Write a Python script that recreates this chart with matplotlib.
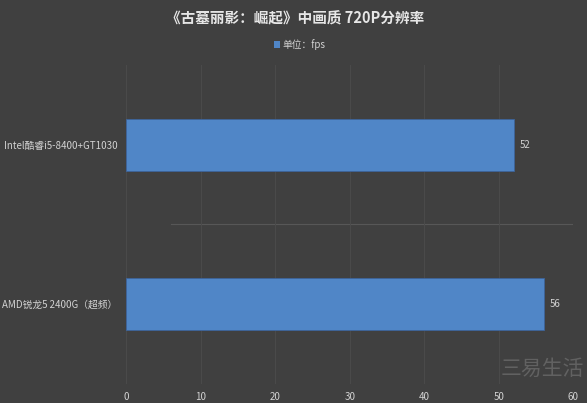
import matplotlib
matplotlib.use("Agg")
import matplotlib.pyplot as plt
from matplotlib.patches import Rectangle

plt.rcParams['font.family'] = ['Noto Sans CJK SC', 'DejaVu Sans']

title = "《古墓丽影：崛起》中画质 720P分辨率"
legend_label = "单位：fps"
categories = ["Intel酷睿i5-8400+GT1030", "AMD锐龙5 2400G（超频）"]
fps = [52, 56]
x_ticks = [0, 10, 20, 30, 40, 50, 60]

bg = "#404040"
bar_color = "#5086C7"
text_color = "#d2d2d2"
grid_color = "#4b4b4b"

fig = plt.figure(figsize=(5.87, 4.03), dpi=100, facecolor=bg)
ax = fig.add_axes([0.2147, 0.048, 0.762, 0.79], facecolor=bg)

ypos = list(range(len(categories)))
ax.barh(ypos, fps, height=0.33, color=bar_color,
        edgecolor="#3d639a", linewidth=0.6, zorder=3)

for y, v in zip(ypos, fps):
    ax.text(v + 0.8, y, f"{v}", va="center", ha="left",
            color=text_color, fontsize=7)

ax.set_xlim(0, 60)
ax.set_ylim(-0.5, 1.5)
ax.invert_yaxis()
ax.set_xticks(x_ticks)
ax.set_xticklabels([str(t) for t in x_ticks])
ax.set_yticks(ypos)
ax.set_yticklabels(categories)
ax.tick_params(axis="both", length=0, colors=text_color, labelsize=7)
ax.tick_params(axis="x", pad=6)
ax.tick_params(axis="y", pad=6)

ax.grid(axis="x", color=grid_color, linewidth=0.7, zorder=0)
ax.axhline(0.5, xmin=0.1, color="#575757", linewidth=0.8, zorder=0)
for s in ax.spines.values():
    s.set_visible(False)

fig.text(0.503, 0.955, title, ha="center", va="center",
         color="#e6e6e6", fontsize=10.5, fontweight="bold")

# legend: small square marker plus unit label
fig.patches.append(Rectangle((0.466, 0.882), 0.011, 0.016,
                             transform=fig.transFigure,
                             facecolor=bar_color, edgecolor="none"))
fig.text(0.481, 0.890, legend_label, ha="left", va="center",
         color=text_color, fontsize=7)

# site mark in the lower right corner
fig.text(0.995, 0.085, "三易生活", ha="right", va="center",
         color="#8a8a8a", alpha=0.45, fontsize=15)

fig.savefig("out.png", dpi=100, facecolor=bg)
